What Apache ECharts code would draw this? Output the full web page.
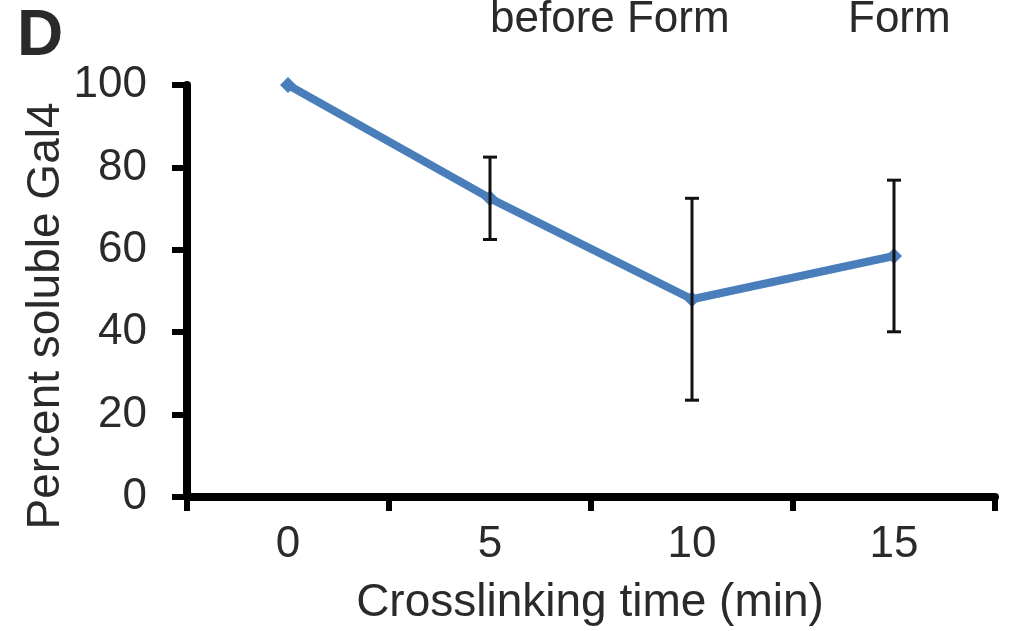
<!DOCTYPE html>
<html>
<head>
<meta charset="utf-8">
<script src="https://cdn.jsdelivr.net/npm/echarts@6/dist/echarts.min.js"></script>
<style>
html,body{margin:0;padding:0;background:#fff;}
#main{width:1010px;height:631px;}
</style>
</head>
<body>
<div id="main"></div>
<script>
const times = ['0', '5', '10', '15'];
const percentSoluble = [100, 72.5, 48, 58.5];
const errorSD = [0, 10, 24.5, 18.4];
const yTicks = [0, 20, 40, 60, 80, 100];

const FONT = '"Liberation Sans", Arial, sans-serif';
const chart = echarts.init(document.getElementById('main'), null, {renderer: 'canvas'});

const errData = times.map((t, i) => [i, percentSoluble[i] - errorSD[i], percentSoluble[i] + errorSD[i]]);

chart.setOption({
  backgroundColor: '#ffffff',
  animation: false,
  grid: {left: 187, right: 15, top: 85, bottom: 134, containLabel: false},
  xAxis: {
    type: 'category',
    data: times,
    boundaryGap: true,
    axisLine: {lineStyle: {color: '#000', width: 8}},
    axisTick: {show: true, length: 14, lineStyle: {color: '#000', width: 6}},
    axisLabel: {color: '#2a2a2a', fontSize: 44, fontFamily: FONT, margin: 26}
  },
  yAxis: {
    type: 'value',
    min: yTicks[0],
    max: yTicks[yTicks.length - 1],
    interval: 20,
    splitLine: {show: false},
    axisLine: {show: true, lineStyle: {color: '#000', width: 8}},
    axisTick: {show: true, length: 15, lineStyle: {color: '#000', width: 6}},
    axisLabel: {color: '#2a2a2a', fontSize: 44, fontFamily: FONT, margin: 40}
  },
  graphic: [
    {type: 'text', left: 17, top: 5, style: {text: 'D', font: 'bold 64px ' + FONT, fill: '#2a2a2a'}},
    {type: 'text', left: 490, top: -2, style: {text: 'before Form', font: '44px ' + FONT, fill: '#2a2a2a'}},
    {type: 'text', left: 848, top: -2, style: {text: 'Form', font: '44px ' + FONT, fill: '#2a2a2a'}},
    {type: 'text', x: 46, y: 316, rotation: Math.PI / 2,
      style: {text: 'Percent soluble Gal4', font: '46px ' + FONT, fill: '#2a2a2a', align: 'center', verticalAlign: 'middle'}},
    {type: 'text', x: 590, y: 603,
      style: {text: 'Crosslinking time (min)', font: '46px ' + FONT, fill: '#2a2a2a', align: 'center', verticalAlign: 'middle'}}
  ],
  series: [
    {
      type: 'line',
      data: percentSoluble,
      z: 2,
      lineStyle: {color: '#4a7ebb', width: 8},
      itemStyle: {color: '#4a7ebb'},
      symbol: 'diamond',
      symbolSize: 16,
      showSymbol: true
    },
    {
      type: 'custom',
      z: 5,
      data: errData,
      renderItem: function (params, api) {
        const i = api.value(0);
        if (api.value(2) - api.value(1) === 0) return null;
        const lo = api.coord([i, api.value(1)]);
        const hi = api.coord([i, api.value(2)]);
        const hw = 7;
        const st = {stroke: '#111', lineWidth: 3};
        return {
          type: 'group',
          children: [
            {type: 'line', shape: {x1: hi[0], y1: hi[1], x2: lo[0], y2: lo[1]}, style: st},
            {type: 'line', shape: {x1: hi[0] - hw, y1: hi[1], x2: hi[0] + hw, y2: hi[1]}, style: st},
            {type: 'line', shape: {x1: lo[0] - hw, y1: lo[1], x2: lo[0] + hw, y2: lo[1]}, style: st}
          ]
        };
      }
    }
  ]
});
</script>
</body>
</html>
